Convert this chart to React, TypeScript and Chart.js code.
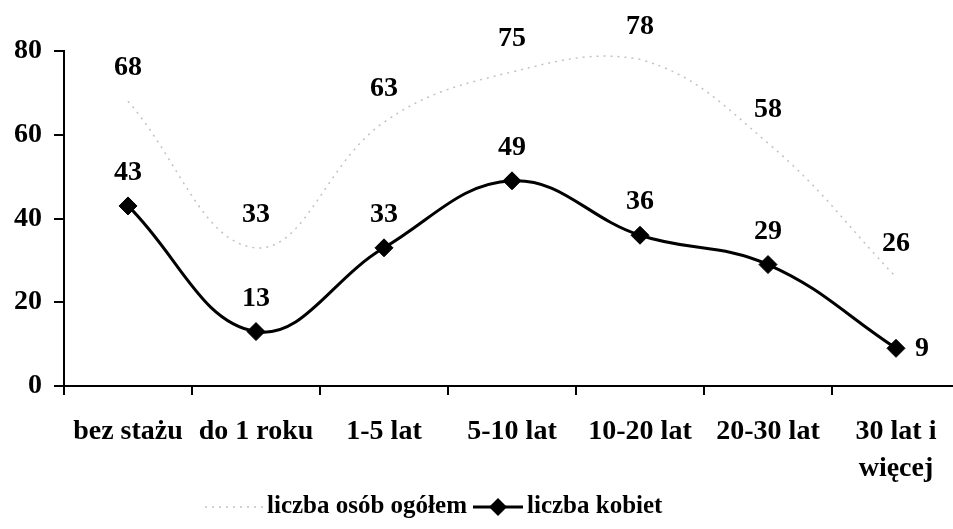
import React, { useEffect, useRef } from 'react';
import { Chart, registerables } from 'chart.js';

Chart.register(...registerables);

const categories: (string | string[])[] = [
  'bez stażu',
  'do 1 roku',
  '1-5 lat',
  '5-10 lat',
  '10-20 lat',
  '20-30 lat',
  ['30 lat i', 'więcej'],
];
const totalValues = [68, 33, 63, 75, 78, 58, 26];
const womenValues = [43, 13, 33, 49, 36, 29, 9];
const seriesNames = ['liczba osób ogółem', 'liczba kobiet'];
const yMin = 0;
const yMax = 80;
const yStep = 20;

const FONT_FAMILY = "'Liberation Serif', 'Times New Roman', serif";
const GRAY = '#c2c2c2';

const labelsPlugin = {
  id: 'valueLabels',
  afterDatasetsDraw(chart: any) {
    const ctx = chart.ctx;
    ctx.save();
    ctx.font = `bold 28px ${FONT_FAMILY}`;
    ctx.fillStyle = '#000';
    chart.data.datasets.forEach((ds: any, di: number) => {
      const meta = chart.getDatasetMeta(di);
      meta.data.forEach((pt: any, i: number) => {
        const v = ds.data[i];
        const last = di === 1 && i === ds.data.length - 1;
        ctx.textBaseline = 'middle';
        if (last) {
          ctx.textAlign = 'left';
          ctx.fillText(String(v), pt.x + 19, pt.y);
        } else {
          ctx.textAlign = 'center';
          ctx.fillText(String(v), pt.x, pt.y - 33);
        }
      });
    });
    ctx.restore();
  },
};

const legendPlugin = {
  id: 'customLegend',
  afterDraw(chart: any) {
    const ctx = chart.ctx;
    ctx.save();
    ctx.font = `bold 25px ${FONT_FAMILY}`;
    ctx.fillStyle = '#000';
    ctx.textBaseline = 'middle';
    ctx.textAlign = 'left';
    const y = 507;
    let x = 205;
    ctx.strokeStyle = GRAY;
    ctx.lineWidth = 1.5;
    ctx.setLineDash([2, 5]);
    ctx.beginPath();
    ctx.moveTo(x, y);
    ctx.lineTo(x + 60, y);
    ctx.stroke();
    ctx.setLineDash([]);
    x += 62;
    ctx.fillText(seriesNames[0], x, y);
    x += ctx.measureText(seriesNames[0]).width + 6;
    ctx.strokeStyle = '#000';
    ctx.lineWidth = 3;
    ctx.beginPath();
    ctx.moveTo(x, y);
    ctx.lineTo(x + 50, y);
    ctx.stroke();
    const cx = x + 25;
    const r = 9;
    ctx.beginPath();
    ctx.moveTo(cx - r, y);
    ctx.lineTo(cx, y - r);
    ctx.lineTo(cx + r, y);
    ctx.lineTo(cx, y + r);
    ctx.closePath();
    ctx.fill();
    x += 54;
    ctx.fillText(seriesNames[1], x, y);
    ctx.restore();
  },
};

export default function App() {
  const canvasRef = useRef<HTMLCanvasElement | null>(null);

  useEffect(() => {
    if (!canvasRef.current) return;
    const chart = new Chart(canvasRef.current, {
      type: 'line',
      data: {
        labels: categories,
        datasets: [
          {
            label: seriesNames[0],
            data: totalValues,
            borderColor: GRAY,
            borderWidth: 1.5,
            borderDash: [2, 5],
            pointRadius: 0,
            pointHoverRadius: 0,
            tension: 0.4,
            fill: false,
          },
          {
            label: seriesNames[1],
            data: womenValues,
            borderColor: '#000',
            backgroundColor: '#000',
            borderWidth: 3,
            pointStyle: 'rectRot',
            pointRadius: 9,
            pointBackgroundColor: '#000',
            pointBorderColor: '#000',
            pointBorderWidth: 1,
            tension: 0.4,
            fill: false,
          },
        ],
      },
      options: {
        animation: false,
        responsive: false,
        maintainAspectRatio: false,
        layout: { padding: { left: 0, right: 15, top: 51, bottom: 0 } },
        plugins: {
          legend: { display: false },
          tooltip: { enabled: false },
          title: { display: false },
        },
        scales: {
          x: {
            type: 'category',
            offset: true,
            grid: {
              offset: true,
              drawOnChartArea: false,
              drawTicks: true,
              tickLength: 9,
              color: '#000',
              lineWidth: 2,
            },
            border: { display: true, color: '#000', width: 2 },
            ticks: {
              color: '#000',
              autoSkip: false,
              maxRotation: 0,
              minRotation: 0,
              padding: 19,
              font: { family: FONT_FAMILY, size: 28, weight: 'bold', lineHeight: 1.3 },
            },
            afterFit: (scale: any) => {
              scale.height = 143;
            },
          },
          y: {
            min: yMin,
            max: yMax,
            grid: {
              drawOnChartArea: false,
              drawTicks: true,
              tickLength: 10,
              color: '#000',
              lineWidth: 2,
            },
            border: { display: true, color: '#000', width: 2 },
            ticks: {
              stepSize: yStep,
              color: '#000',
              padding: 12,
              font: { family: FONT_FAMILY, size: 28, weight: 'bold' },
            },
            afterFit: (scale: any) => {
              scale.width = 64;
            },
          },
        },
      },
      plugins: [labelsPlugin, legendPlugin],
    });
    return () => chart.destroy();
  }, []);

  return (
    <div
      style={{
        position: 'fixed',
        left: 0,
        top: 0,
        width: 953,
        height: 529,
        overflow: 'hidden',
        background: '#fff',
      }}
    >
      <canvas ref={canvasRef} width={975} height={529} style={{ display: 'block' }} />
    </div>
  );
}
